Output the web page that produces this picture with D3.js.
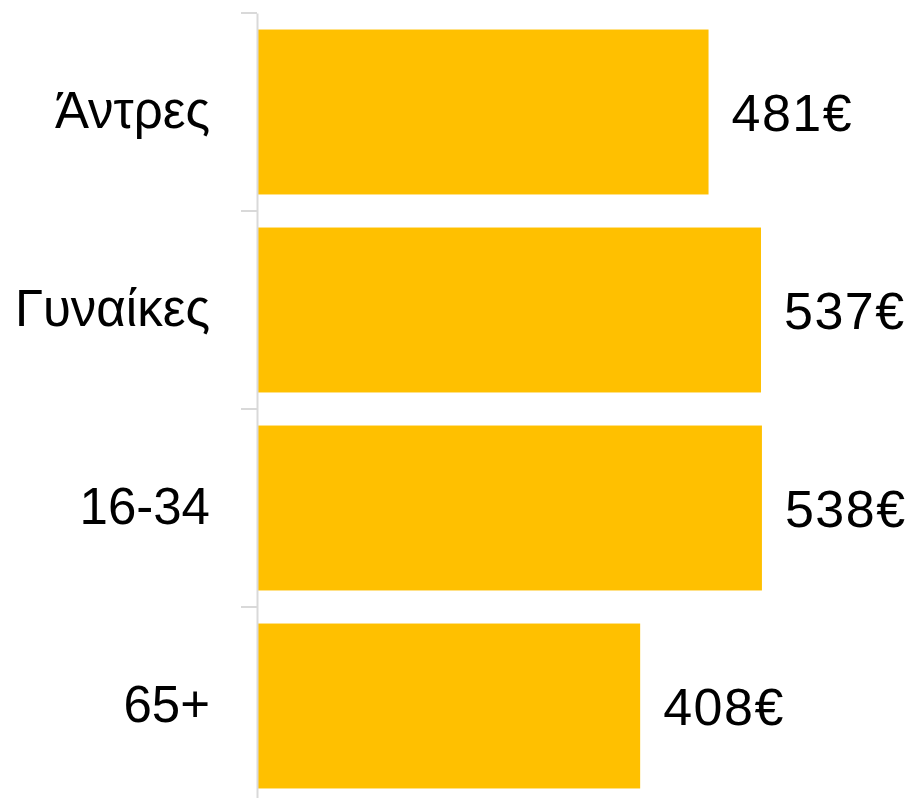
<!DOCTYPE html>
<html>
<head>
<meta charset="utf-8">
<script src="https://cdn.jsdelivr.net/npm/d3@7"></script>
<style>
  html, body { margin: 0; padding: 0; background: #fff; }
  svg { display: block; }
</style>
</head>
<body>
<div id="chart"></div>
<script>
// Average monthly amount by group
const categories = ["Άντρες", "Γυναίκες", "16-34", "65+"];
const values = [481, 537, 538, 408];
const valueSuffix = "€";

const width = 916, height = 798;
const axisX = 257;

const svg = d3.select("#chart").append("svg")
  .attr("width", width)
  .attr("height", height);

const y = d3.scaleBand()
  .domain(categories)
  .range([13, 805])
  .paddingInner(0.167)
  .paddingOuter(0.0835);

const x = d3.scaleLinear()
  .domain([0, 600])
  .range([axisX + 1, axisX + 1 + 562]);

// bars
svg.append("g")
  .selectAll("rect")
  .data(categories)
  .join("rect")
  .attr("x", x(0))
  .attr("y", d => y(d))
  .attr("width", (d, i) => x(values[i]) - x(0))
  .attr("height", y.bandwidth())
  .attr("fill", "#FFC000");

// category axis with labels
const axis = d3.axisLeft(y).tickSize(0).tickSizeOuter(0).tickPadding(47);
const gAxis = svg.append("g")
  .attr("transform", `translate(${axisX},0)`)
  .call(axis);
gAxis.select(".domain").attr("stroke", "#d9d9d9").attr("stroke-width", 2);
gAxis.selectAll(".tick text")
  .attr("fill", "#000")
  .style("font-family", "'Liberation Sans', Arial, sans-serif")
  .style("font-size", "51px");

// tick marks between categories
const step = y.step();
const boundaries = categories.map(c => y(c) - y.paddingInner() * step / 2);
svg.append("g")
  .selectAll("line")
  .data(boundaries)
  .join("line")
  .attr("x1", axisX - 16)
  .attr("x2", axisX)
  .attr("y1", d => d)
  .attr("y2", d => d)
  .attr("stroke", "#d9d9d9")
  .attr("stroke-width", 2);

// value labels
svg.append("g")
  .selectAll("text")
  .data(categories)
  .join("text")
  .attr("x", (d, i) => x(values[i]) + 23)
  .attr("y", d => y(d) + y.bandwidth() / 2)
  .attr("dy", "0.36em")
  .attr("fill", "#000")
  .style("font-family", "'Liberation Sans', Arial, sans-serif")
  .style("font-size", "52px")
  .style("letter-spacing", "1.5px")
  .text((d, i) => values[i] + valueSuffix);
</script>
</body>
</html>
